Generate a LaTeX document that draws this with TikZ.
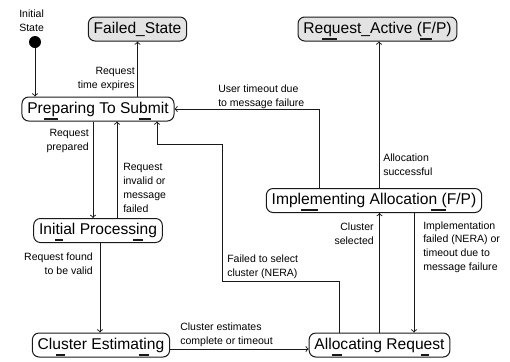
\documentclass[tikz,border=0pt]{standalone}
\usepackage{fontspec}
\setmainfont{Liberation Sans}
\usetikzlibrary{arrows,calc}
\definecolor{StateClr}{rgb}{0.89,0.89,0.89}
\definecolor{LineClr}{rgb}{0.1,0.1,0.1}

\begin{document}
\begin{tikzpicture}[x=0.75pt,y=-0.75pt,
  state/.style={draw=LineClr,rounded corners=5pt,line width=0.75pt,minimum height=18pt,inner xsep=4pt,inner ysep=0pt,font=\fontsize{11.7}{14}\selectfont},
  final/.style={state,fill=StateClr},
  trans/.style={->,>=to,line width=0.7pt,color=LineClr},
  lbl/.style={font=\fontsize{7.9}{10.3}\selectfont,inner sep=0pt},
  mnem/.style={line width=1.5pt,color=LineClr}]
\useasboundingbox (0,0) rectangle (510,361);

\node[circle,fill=black,inner sep=0pt,minimum size=9pt] (Init) at (35,42) {};
\node[lbl,align=left,anchor=west] (InitLbl) at (19,21) {Initial\\State};

\node[final] (Fail) at (137.5,29) {Failed\_State};
\node[final] (Active) at (377.5,29) {Request\_Active (F/P)};
\node[state] (Prep) at (98,109) {Preparing To Submit};
\node[state] (InitProc) at (98,230.5) {Initial Processing};
\node[state] (Impl) at (374,200.5) {Implementing Allocation (F/P)};
\node[state] (Estim) at (101,345) {Cluster Estimating};
\node[state] (Alloc) at (379.5,345) {Allocating Request};

\coordinate (ImplUp) at ($(Impl.north)+(5,0)$);
\coordinate (ImplBack) at ($(Impl.north)+(-55,0)$);
\coordinate (ImplDown) at ($(Impl.south)+(40,0)$);
\coordinate (PrepDown) at ($(Prep.south)+(-5,0)$);
\coordinate (PrepUp) at ($(Prep.south)+(19,0)$);
\coordinate (PrepRet) at ($(Prep.south)+(59,0)$);
\coordinate (AllocRet) at ($(Alloc.north)+(-40.5,0)$);
\coordinate (ProcDown) at ($(InitProc.south)+(2,0)$);
\coordinate (BendA) at (222,281);
\coordinate (BendB) at (222,144);

\draw[trans] (Init) -- (Init |- Prep.north);
\draw[trans] (Fail |- Prep.north) -- (Fail.south);
\draw[trans] (ImplUp) -- (ImplUp |- Active.south);
\draw[trans] (ImplBack) |- (Prep.east);
\draw[trans] (PrepDown) -- (PrepDown |- InitProc.north);
\draw[trans] (PrepUp |- InitProc.north) -- (PrepUp);
\draw[trans] (AllocRet) |- (BendA) -- (BendB) -| (PrepRet);
\draw[trans] (ProcDown) -- (ProcDown |- Estim.north);
\draw[trans] ([yshift=-3pt]Estim.east) -- ([yshift=-3pt]Estim.east -| Alloc.west);
\draw[trans] (Alloc.north) -- (Alloc.north |- Impl.south);
\draw[trans] (ImplDown) -- (ImplDown |- Alloc.north);

\node[lbl,align=right,anchor=east] (LblTime) at (135,79) {Request\\time expires};
\node[lbl,align=left,anchor=west] (LblUser) at (218,97) {User timeout due\\to message failure};
\node[lbl,align=left,anchor=west] (LblSucc) at (383,165) {Allocation\\successful};
\node[lbl,align=right,anchor=east] (LblPrep) at (89,141) {Request\\prepared};
\node[lbl,align=left,anchor=west] (LblInv) at (123,188) {Request\\invalid or\\message\\failed};
\node[lbl,align=left,anchor=west] (LblSel) at (227,267) {Failed to select\\cluster (NERA)};
\node[lbl,align=right,anchor=east] (LblValid) at (93,264) {Request found\\to be valid};
\node[lbl,align=left,anchor=west] (LblEst) at (180,335) {Cluster estimates\\complete or timeout};
\node[lbl,align=right,anchor=east] (LblClus) at (374,234) {Cluster\\selected};
\node[lbl,align=left,anchor=west] (LblImpl) at (423,247) {Implementation\\failed (NERA) or\\timeout due to\\message failure};

\draw[mnem] ($(Prep.south west)+(23,-3)$) -- ++(14,0);
\draw[mnem] ($(Prep.south west)+(117,-3)$) -- ++(12,0);
\draw[mnem] ($(InitProc.south west)+(22,-3)$) -- ++(8,0);
\draw[mnem] ($(InitProc.south west)+(100,-3)$) -- ++(10,0);
\draw[mnem] ($(Impl.south west)+(35,-3)$) -- ++(17,0);
\draw[mnem] ($(Impl.south west)+(165,-3)$) -- ++(15,0);
\draw[mnem] ($(Estim.south west)+(24,-3)$) -- ++(9,0);
\draw[mnem] ($(Estim.south west)+(107,-3)$) -- ++(10,0);
\draw[mnem] ($(Alloc.south west)+(23,-3)$) -- ++(10,0);
\draw[mnem] ($(Alloc.south west)+(112,-3)$) -- ++(8,0);
\draw[mnem] ($(Active.south west)+(24,-3)$) -- ++(15,0);
\draw[mnem] ($(Active.south west)+(122,-3)$) -- ++(12,0);

\end{tikzpicture}
\end{document}
